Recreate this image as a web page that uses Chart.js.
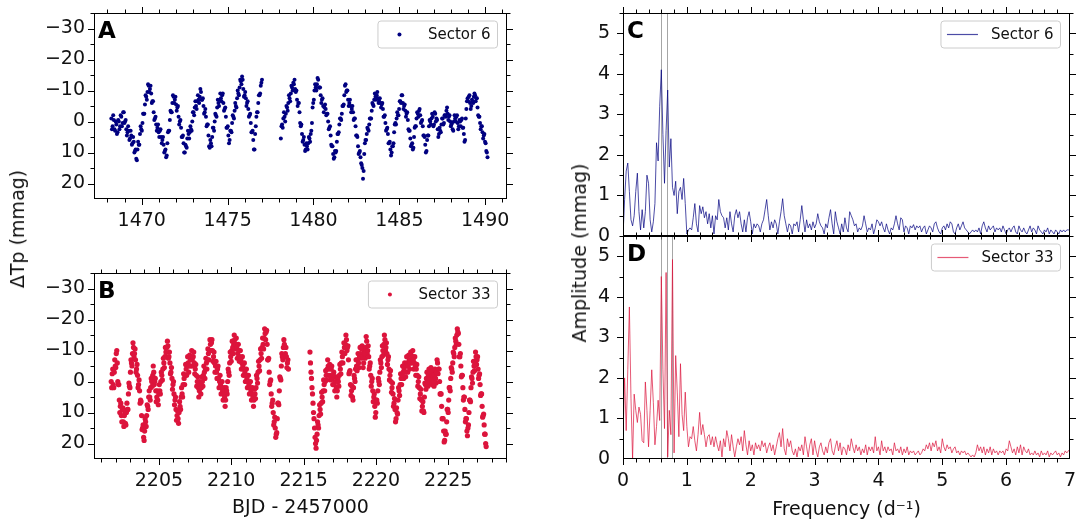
<!DOCTYPE html>
<html>
<head>
<meta charset="utf-8">
<script src="https://cdn.jsdelivr.net/npm/chart.js@4.4.1/dist/chart.umd.min.js"></script>
<style>
  body { margin: 0; background: #fff; width: 1078px; height: 523px; position: relative; overflow: hidden; }
  canvas { position: absolute; }
  .ylab { position: absolute; font-family: "DejaVu Sans"; font-size: 19px; color: #111; white-space: nowrap;
          transform: translate(-50%, -50%) rotate(-90deg); }
</style>
</head>
<body>
<canvas id="chartA" width="527" height="253" style="left:0;top:-8px"></canvas>
<canvas id="chartB" width="527" height="271" style="left:0;top:252px"></canvas>
<canvas id="chartC" width="528" height="273" style="left:560px;top:-12px"></canvas>
<canvas id="chartD" width="528" height="312" style="left:560px;top:211px"></canvas>
<div class="ylab" style="left:17px;top:229px">ΔTp (mmag)</div>
<div class="ylab" style="left:579px;top:253px">Amplitude (mmag)</div>
<script>
// light curves: main samples at start + i*step, in-between samples at start + (i+0.5)*step
var s6Start = [1468.23, 1478.10];
var s6Step = 0.0725;
var s6Orbit1 = [-1, 1.5, -0.5, 3, 1, 3.5, 0, 1.5, -1.5, 0.5,
  -3, 0, 2.5, 3.5, 3, 5.5, 4.5, 7, 6.5, 9.5,
  12, 9, 7.5, 4, 2.5, 0.5, -2.5, -5.5, -8, -9.5,
  -11.5, -10.5, -9, -6.5, -3, -1, 1, 2, 3.5, 3,
  5, 6, 7.5, 9.5, 11.5, 7, 3, -0.5, -3, -6,
  -8, -7, -5.5, -4.5, -1.5, 0, 2, 5, 7, 10,
  8, 5.5, 4, 3.5, 2.5, 0, -3, -4.5, -5, -6.5,
  -7, -8, -9.5, -7, -5, -3, -1.5, 1, 4.5, 8.5,
  7, 5, 2, 0, -2, -4.5, -6, -7, -7.5, -8.5,
  -6, -4, -1.5, 2, 4.5, 6, 3, 0.5, -1.5, -3.5,
  -5, -7.5, -9, -11, -13, -14.5, -10.5, -8.5, -7.5, -6,
  -4, -2, 0.5, 3.5, 6, 9, 1.5, -3, -6, -8.5,
  -11.5, -13.5];
var s6Orbit1Mid = [2.5, -2, 2.5, 0, 4, -0.5, 2.5, -2, 1.5, -3,
  0.5, -0.5, 4.5, 1.5, 6, 3, 7.5, 5, 10, 9,
  12.5, 6.5, 7.5, 1.5, 3, -2.5, -2.5, -8.5, -7, -12,
  -9.5, -11.5, -6, -6.5, -0.5, -1.5, 3, 1, 5, 2.5,
  7, 5, 10, 9, 11, 3.5, 3, -3.5, -3, -8.5,
  -6, -8, -3.5, -5, 1, -0.5, 5, 4.5, 10, 7.5,
  8.5, 3, 5.5, 1.5, 3, -3, -2, -6.5, -4, -8.5,
  -6, -10.5, -7, -7.5, -2.5, -4, 1.5, 1, 8, 6,
  8, 2, 3, -2.5, -1.5, -7, -5, -9, -6.5, -9,
  -3.5, -4.5, 2, 1.5, 7, 3, 3.5, -2, -1, -6,
  -4.5, -10, -8.5, -13.5, -12, -13.5, -8, -9.5, -5, -6.5,
  -1.5, -2.5, 3.5, 3, 9, 4, -1.5, -3, -8.5, -9,
  -12.5];
var s6Orbit2 = [5.5, 1, -1, -1.5, -2.5, -4.5, -6, -7.5, -9, -11,
  -12.5, -13.5, -9.5, -7, -6, -3, 1.5, 4, 6, 7.5,
  9, 8, 7, 5.5, 4, 0.5, -6, -10, -11, -12,
  -13.5, -11, -8.5, -7, -5, -4.5, -4, -2.5, 0, 2,
  4.5, 8, 10.5, 11.5, 10, 6.5, 4, 1, -1, -2.5,
  -5, -8.5, -12, -10, -7, -6, -5, -4, -3, -1,
  1.5, 4.5, 8, 10, 11.5, 14, 18.5, 10.5, 6, 4,
  2.5, 1, -1, -3.5, -5.5, -7, -8, -8.5, -7.5, -6.5,
  -6, -5.5, -4, -1.5, 0.5, 2.5, 4, 7, 9, 10,
  8, 3.5, 0.5, -1, -2, -4, -6.5, -8.5, -6, -5,
  -3.5, -2.5, -0.5, 3, 5.5, 7.5, 9, 5, 1.5, -1,
  -2.5, -3.5, -2, 0, 1.5, 4.5, 7.5, 9.5, 4.5, 1.5,
  0, -1, -1.5, 1, -2.5, -1, 2.5, 4, 3, 1,
  -1, 0.5, -2, -3.5, -2.5, -1.5, 0, 1, 2.5, 0,
  -1, -1.5, 0.5, 1.5, 0, -0.5, 2, 4, 6, -4,
  -7.5, -8, -6, -5, -6.5, -8, -8.5, -7.5, -4.5, -1.5,
  0.5, 1.5, 3.5, 4.5, 6.5, 9.5, 11.5];
var s6Orbit2Mid = [1.5, 2, -3, 0, -5, -3.5, -8.5, -6.5, -11.5, -10,
  -12, -10.5, -10, -5, -6, 0.5, 1, 6.5, 5, 9.5,
  7, 9, 5, 6.5, 3, -4.5, -7, -12, -10, -14,
  -11, -11, -6, -7.5, -3, -5.5, -2, -2.5, 2.5, 1.5,
  7.5, 8, 12, 9.5, 9.5, 4, 3.5, -1, -0.5, -5,
  -5.5, -11.5, -9.5, -10, -5, -7, -3, -5, -0.5, -1,
  4.5, 5, 10.5, 9.5, 13.5, 15, 16, 7, 6, 2,
  3, -1, -1, -6, -5, -9, -7, -9.5, -6, -7.5,
  -4.5, -6, -1.5, -2, 3, 2, 7, 6.5, 11, 8,
  7, 1, 1, -3, -2, -6.5, -6, -8.5, -4, -5.5,
  -1.5, -3, 2.5, 3, 8, 7, 8.5, 2, 1.5, -3,
  -1.5, -4, 0.5, -0.5, 4.5, 5, 10, 6, 4.5, -0.5,
  1, -2.5, 1.5, -3, 0, -0.5, 5, 2, 3.5, -1,
  1, -2, -1.5, -4.5, -0.5, -2, 1.5, 0.5, 3, -2,
  0, -2, 2.5, -0.5, 1.5, -1, 2, 6.5, -1, -6.5,
  -6.5, -8.5, -4, -7, -6, -9, -6.5, -7.5, -2, -1.5,
  2.5, 1.5, 5.5, 4, 7, 10];

var s33Start = [2201.70, 2215.44];
var s33Step = 0.07;
var s33Orbit1 = [0, -2.5, 1, -3, -5, -9, -6, 1, 6, 8,
  11, 9, 13, 11, 13.5, 10, 9, 4, 1.5, -3,
  -6, -9, -11, -9, -7, -4, -2, 1, 3, 6,
  11, 15, 18, 16, 13, 11, 8, 5, 5, 2,
  0, -2, -3, 0, 3, 5, 6, 4, 3, 0,
  -2, -4, -6, -8, -9.5, -11, -11.5, -8, -6, -3,
  -1, 1, 4, 6, 9, 11, 12, 10, 8, 5,
  4, 1, -1, -2, -4, -5, -6, -5, -7, -8,
  -7, -8, -6, -4, -2, 0, 2, 3, 1, 2,
  0, -2, -3, -4, -6, -7, -9, -10, -12, -12.5,
  -10, -8, -6, -5, -3, -4, -1, 0, 1, 2,
  3, 4, 5, 6, 3, 0, -3, -6, -8, -10,
  -11, -12, -13.5, -12, -11, -9, -10, -8, -7, -6,
  -5, -4, -3, -2, -1, 0, 1, 2, 3, 4,
  5, 6, 4, 2, -1, -3, -5, -7, -9, -11,
  -12, -14, -15.5, -16, -12, -7, -3, 0, 4, 7,
  10, 13, 15, 17, 12, 7, 3, -1, -5, -8,
  -11, -12, -9, -8, -6, -4];
var s33Orbit1Mid = [2, -4, 2, -7, -4.5, -10, 0, 1, 10, 7,
  13, 8.5, 14.5, 10, 14, 7, 9, 0.5, 2, -7,
  -5, -12.5, -8, -10.5, -3, -5.5, 2, -0.5, 7, 6.5,
  15.5, 14, 19, 12, 14.5, 7.5, 9, 3, 6, -1,
  1.5, -5, 1, -1, 6.5, 3, 7.5, 1, 4, -3,
  -0.5, -7.5, -4.5, -11, -8, -13, -7.5, -9.5, -2.5, -4.5,
  2.5, 0, 7.5, 5, 12.5, 9.5, 13.5, 6.5, 9, 2,
  5, -2.5, 1, -5.5, -2, -8, -3, -8.5, -5, -10,
  -5, -9.5, -2.5, -5.5, 1.5, -1.5, 5, 0, 4, -1.5,
  1.5, -5, -1, -7.5, -4, -10.5, -7, -13.5, -10, -13.5,
  -6.5, -9.5, -3, -6.5, -1, -5, 2, -2, 4, 0,
  6, 2, 8, 2, 4, -4, -2, -9.5, -6.5, -13,
  -9, -15, -10.5, -14, -7.5, -12, -6.5, -10, -4, -8,
  -2, -6, 0, -4, 2, -2, 4, 0, 6, 2,
  8, 2.5, 5.5, -2, 0.5, -6.5, -3.5, -10.5, -7.5, -14,
  -10.5, -17, -13.5, -16.5, -7, -7.5, 1, -0.5, 8, 6,
  14, 11.5, 18, 16.5, 7, 7.5, -1.5, -0.5, -9, -7,
  -13.5, -8, -11, -4.5, -7];
var s33Orbit2 = [-9.5, -3, 2, 7, 12, 18, 21.5, 17, 14, 11,
  9, 7, 5, 3, 1, 0, -2, -4, -5, -4,
  -2, -4, -1, -2, 1, 0, 2, 3, 0, -2,
  -4, -6, -8, -9, -11, -12, -13.5, -11, -7, -3,
  1, 3, 5, 2, -1, -4, -5, -7, -6, -8,
  -9, -10.5, -8, -6, -9, -11, -13, -10, -8, -5,
  -2, 0, 3, 5, 8, 10, 6, 3, 0, -3,
  -6, -8, -10, -12, -13.5, -11, -9, -7, -4, -2,
  0, 2, 4, 7, 9, 12, 10, 6, 3, 1,
  -1, -2, -3, -4, -3, -5, -6, -5, -7, -6,
  -8.5, -8, -7, -6, -5, -4, -2, 0, 2, 4,
  6, 8, 9.5, 5, 1, -1, 0, -2, -1, -3,
  -1, -2, 0, -2, -1, -3, -6, -4, 0, 4,
  8, 12, 16, 19, 17, 13, 9, 6, 2, -1,
  -4, -6, -9, -11, -13, -15, -16, -12, -8, -5,
  -2, 2, 5, 9, 12, 16, 15, 10, 6, 2,
  -1, -3, -5, -6, -8, -7, -4, -2, 1, 4,
  8, 11, 14, 17, 21];
var s33Orbit2Mid = [-6, -1, 4, 10, 15, 20, 19, 13, 15, 7.5,
  10.5, 3.5, 6.5, -0.5, 3, -3.5, -0.5, -7, -2, -5.5,
  -0.5, -5, 1, -3, 3, -1.5, 5, -1, 1.5, -5.5,
  -2.5, -9.5, -6, -12.5, -9, -15, -10, -11.5, -2.5, -3.5,
  4.5, 1.5, 6, -2, 0, -7, -3.5, -9, -4.5, -11,
  -7.5, -11.5, -4.5, -10, -7.5, -14.5, -9, -11.5, -4, -6,
  1.5, -1, 6.5, 4, 11.5, 6, 7, -1, 1, -7,
  -4.5, -11.5, -8.5, -15, -10, -12.5, -5.5, -8, -0.5, -3.5,
  3.5, 0.5, 8, 5.5, 13, 8.5, 10.5, 2, 4.5, -2.5,
  1, -5, -1, -6, -1.5, -8, -3, -8.5, -4, -9.5,
  -6, -10, -4, -8, -2, -5.5, 1.5, -1.5, 5.5, 2.5,
  9.5, 6.5, 10, 0.5, 2.5, -3, 1.5, -4, 0.5, -4.5,
  1, -3.5, 1.5, -4, 0.5, -7, -2.5, -4, 4, 4,
  12, 12, 19.5, 16, 17, 9, 10, 2, 3, -4.5,
  -3, -9.5, -8, -14, -12, -17, -15.5, -8, -9, -1.5,
  -2, 6, 5, 13, 12, 17.5, 14, 6, 6.5, -1.5,
  0.5, -6.5, -3.5, -9.5, -5.5, -8, -1, -2.5, 4.5, 4,
  11.5, 10.5, 17, 20];

// amplitude spectra, one value every 0.025 d^-1 from 0 to 7
var fStep = 0.025;
var ampS6 = [0.0, 0.9, 1.6, 1.8, 1.1, 0.4, 0.25, 0.5,
  1.1, 1.55, 0.6, 0.15, 0.65, 0.2, 0.6, 1.5,
  1.3, 0.4, 0.1, 0.35, 0.8, 2.3, 1.85, 3.2,
  4.1, 2.5, 1.3, 2.6, 3.6, 1.7, 2.4, 1.2,
  1.0, 1.35, 0.55, 1.1, 1.2, 0.9, 1.42, 0.8,
  0.05, 0.15, 0.2, 0.15, 0.45, 0.8, 0.3, 0.1,
  0.75, 0.55, 0.72, 0.45, 0.6, 0.3, 0.55, 0.2,
  0.5, 0.05, 0.5, 0.4, 0.9, 0.6, 0.5, 0.45,
  0.2, 0.45, 0.15, 0.6, 0.3, 0.1, 0.5, 0.65,
  0.45, 0.6, 0.3, 0.1, 0.4, 0.1, 0.45, 0.6,
  0.35, 0.05, 0.3, 0.2, 0.3, 0.25, 0.1, 0.3,
  0.4, 0.65, 0.9, 0.5, 0.15, 0.35, 0.2, 0.4,
  0.3, 0.05, 0.35, 0.6, 0.92, 0.5, 0.3, 0.1,
  0.3, 0.25, 0.05, 0.3, 0.25, 0.35, 0.1, 0.4,
  0.75, 0.4, 0.1, 0.4, 0.2, 0.3, 0.15, 0.35,
  0.2, 0.3, 0.55, 0.35, 0.25, 0.2, 0.05, 0.3,
  0.2, 0.45, 0.65, 0.3, 0.05, 0.6, 0.35, 0.2,
  0.05, 0.3, 0.1, 0.45, 0.2, 0.1, 0.6, 0.5,
  0.4, 0.25, 0.3, 0.1, 0.2, 0.15, 0.25, 0.5,
  0.3, 0.1, 0.2, 0.15, 0.3, 0.05, 0.2, 0.4,
  0.35, 0.25, 0.35, 0.2, 0.1, 0.3, 0.15, 0.05,
  0.2, 0.15, 0.3, 0.5, 0.3, 0.15, 0.45, 0.4,
  0.1, 0.25, 0.2, 0.05, 0.25, 0.2, 0.28, 0.15,
  0.25, 0.2, 0.25, 0.1, 0.2, 0.25, 0.05, 0.15,
  0.25, 0.2, 0.1, 0.3, 0.35, 0.2, 0.1, 0.05,
  0.2, 0.25, 0.15, 0.3, 0.2, 0.35, 0.3, 0.1,
  0.05, 0.2, 0.3, 0.15, 0.25, 0.35, 0.2, 0.15,
  0.1, 0.05, 0.1, 0.15, 0.1, 0.15, 0.1, 0.2,
  0.05, 0.25, 0.35, 0.2, 0.1, 0.25, 0.15, 0.2,
  0.25, 0.1, 0.2, 0.15, 0.2, 0.1, 0.25, 0.15,
  0.05, 0.15, 0.2, 0.1, 0.2, 0.25, 0.1, 0.05,
  0.25, 0.15, 0.1, 0.2, 0.1, 0.05, 0.15, 0.25,
  0.1, 0.2, 0.15, 0.05, 0.25, 0.15, 0.1, 0.05,
  0.15, 0.1, 0.2, 0.05, 0.15, 0.1, 0.05, 0.15,
  0.1, 0.05, 0.15, 0.1, 0.15, 0.1, 0.15, 0.15,
  0.15];
var ampS33 = [0.5, 2.0, 0.7, 2.2, 3.75, 1.5, 0.0, 1.6,
  1.2, 0.9, 1.28, 1.1, 0.45, 0.4, 1.9, 1.2,
  0.3, 1.2, 2.2, 1.4, 0.35, 0.8, 1.45, 0.95,
  4.5, 2.2, 0.75, 4.6, 0.05, 1.2, 0.6, 4.92,
  0.15, 2.55, 1.65, 0.55, 2.35, 1.1, 0.7, 1.65,
  0.8, 0.3, 0.55, 0.5, 0.8, 0.45, 0.2, 0.6,
  1.15, 0.6, 0.85, 0.6, 0.3, 0.55, 0.6, 0.35,
  0.55, 0.3, 0.55, 0.35, 0.2, 0.45, 0.05, 0.5,
  0.3, 0.7, 0.5, 0.2, 0.6, 0.3, 0.05, 0.3,
  0.5, 0.35, 0.55, 0.2, 0.7, 0.35, 0.1, 0.45,
  0.2, 0.35, 0.1, 0.4, 0.25, 0.35, 0.2, 0.45,
  0.3, 0.4, 0.15, 0.3, 0.4, 0.2, 0.35, 0.1,
  0.3, 0.5, 0.65, 0.3, 0.75, 0.25, 0.1, 0.5,
  0.3, 0.45, 0.2, 0.1, 0.25, 0.05, 0.3, 0.2,
  0.35, 0.1, 0.55, 0.3, 0.05, 0.35, 0.5, 0.1,
  0.45, 0.2, 0.05, 0.3, 0.4, 0.2, 0.1, 0.3,
  0.15, 0.4, 0.5, 0.2, 0.1, 0.3, 0.45, 0.2,
  0.4, 0.1, 0.3, 0.25, 0.1, 0.35, 0.2, 0.5,
  0.3, 0.15, 0.35, 0.2, 0.3, 0.1, 0.25, 0.15,
  0.35, 0.1, 0.3, 0.2, 0.3, 0.15, 0.55, 0.2,
  0.3, 0.1, 0.45, 0.2, 0.3, 0.15, 0.3, 0.2,
  0.25, 0.1, 0.4, 0.2, 0.25, 0.15, 0.3, 0.1,
  0.25, 0.15, 0.3, 0.1, 0.2, 0.15, 0.2, 0.1,
  0.15, 0.2, 0.1, 0.15, 0.25, 0.2, 0.35, 0.25,
  0.4, 0.2, 0.4, 0.3, 0.45, 0.2, 0.3, 0.15,
  0.5, 0.3, 0.2, 0.35, 0.25, 0.3, 0.15, 0.25,
  0.3, 0.15, 0.2, 0.1, 0.2, 0.15, 0.2, 0.1,
  0.15, 0.1, 0.05, 0.1, 0.05, 0.15, 0.35, 0.2,
  0.3, 0.15, 0.3, 0.1, 0.25, 0.15, 0.3, 0.1,
  0.25, 0.15, 0.2, 0.1, 0.2, 0.15, 0.2, 0.1,
  0.25, 0.2, 0.45, 0.3, 0.15, 0.25, 0.1, 0.3,
  0.15, 0.35, 0.1, 0.3, 0.2, 0.15, 0.25, 0.1,
  0.15, 0.1, 0.2, 0.1, 0.15, 0.05, 0.2, 0.1,
  0.15, 0.1, 0.2, 0.05, 0.15, 0.1, 0.15, 0.2,
  0.1, 0.15, 0.05, 0.15, 0.1, 0.2, 0.15, 0.2,
  0.25];

// marked frequencies (grey lines)
var freqS6 = [0.60, 0.69];
var freqS33 = [0.60, 0.69, 0.77];

// ticks
var lcTicks = [-30, -20, -10, 0, 10, 20];
var s6Ticks = [1470, 1475, 1480, 1485, 1490];
var s33Ticks = [2205, 2210, 2215, 2220, 2225];
var fTicks = [0, 1, 2, 3, 4, 5, 6, 7];
var ampTicks = [0, 1, 2, 3, 4, 5];

var FONT = 'DejaVu Sans';

function steps(a, b, s) {
  var out = [];
  for (var v = a; v <= b + 1e-9; v += s) out.push(+v.toFixed(3));
  return out;
}

function lcPoints(starts, step, orbits, offset) {
  var pts = [];
  orbits.forEach(function (vals, k) {
    vals.forEach(function (v, i) { pts.push({ x: starts[k] + (i + offset) * step, y: v }); });
  });
  return pts;
}

function specPoints(amp) {
  return amp.map(function (a, i) { return { x: +(i * fStep).toFixed(3), y: a }; });
}

function fmt(v) {
  return v < 0 ? '\u2212' + (-v) : String(v);
}

// frame, ticks on all sides, panel letter, legend and marked frequencies
var panelPlugin = {
  id: 'panel',
  beforeDatasetsDraw: function (chart, args, o) {
    var ctx = chart.ctx, a = chart.chartArea, x = chart.scales.x;
    ctx.save();
    ctx.strokeStyle = 'rgba(128,128,128,0.7)';
    ctx.lineWidth = 1;
    (o.lines || []).forEach(function (f) {
      var p = Math.round(x.getPixelForValue(f)) + 0.5;
      ctx.beginPath(); ctx.moveTo(p, a.top); ctx.lineTo(p, a.bottom); ctx.stroke();
    });
    ctx.restore();
  },
  afterDraw: function (chart, args, o) {
    var ctx = chart.ctx, a = chart.chartArea, x = chart.scales.x, y = chart.scales.y;
    ctx.save();
    ctx.strokeStyle = '#000';
    ctx.lineWidth = 1;
    ctx.strokeRect(a.left + 0.5, a.top + 0.5, a.right - a.left - 1, a.bottom - a.top - 1);
    function seg(x1, y1, x2, y2) { ctx.beginPath(); ctx.moveTo(x1, y1); ctx.lineTo(x2, y2); ctx.stroke(); }
    function xt(v, len) {
      var p = Math.round(x.getPixelForValue(v)) + 0.5;
      if (p < a.left || p > a.right) return;
      seg(p, a.bottom, p, a.bottom + len);
      seg(p, a.top, p, a.top - len);
    }
    function yt(v, len) {
      var p = Math.round(y.getPixelForValue(v)) + 0.5;
      if (p < a.top || p > a.bottom) return;
      seg(a.left, p, a.left - len, p);
      seg(a.right, p, a.right + len, p);
    }
    o.xMinor.forEach(function (v) { xt(v, 3.5); });
    o.yMinor.forEach(function (v) { yt(v, 3.5); });
    x.ticks.forEach(function (t) { xt(t.value, 6); });
    y.ticks.forEach(function (t) { yt(t.value, 6); });

    ctx.fillStyle = '#000';
    ctx.font = 'bold 23px "' + FONT + '"';
    ctx.textBaseline = 'alphabetic';
    ctx.textAlign = 'left';
    ctx.fillText(o.letter, a.left + 4, a.top + 24.5);

    var ds = chart.data.datasets[0];
    ctx.font = '15px "' + FONT + '"';
    var tw = ctx.measureText(ds.label).width;
    var w = 50 + tw + 7, h = 27;
    var bx = a.right - 9.5 - w, by = a.top + 8;
    ctx.beginPath();
    ctx.roundRect(bx, by, w, h, 3);
    ctx.fillStyle = 'rgba(255,255,255,0.8)';
    ctx.fill();
    ctx.strokeStyle = '#cccccc';
    ctx.stroke();
    var cy = by + h / 2;
    if (o.marker === 'dot') {
      ctx.fillStyle = ds.backgroundColor;
      ctx.beginPath(); ctx.arc(bx + 21.5, cy, 2, 0, Math.PI * 2); ctx.fill();
    } else {
      ctx.strokeStyle = ds.borderColor;
      ctx.lineWidth = 1.2;
      seg(bx + 6, cy, bx + 37, cy);
    }
    ctx.fillStyle = '#111';
    ctx.textBaseline = 'middle';
    ctx.fillText(ds.label, bx + 50, cy + 1);
    ctx.restore();
  }
};

function makePanel(id, c) {
  return new Chart(document.getElementById(id), {
    type: c.type,
    data: { datasets: c.datasets },
    options: {
      responsive: false,
      animation: false,
      devicePixelRatio: 1,
      layout: { padding: c.pad },
      plugins: {
        legend: { display: false },
        tooltip: { enabled: false },
        panel: c.panel
      },
      scales: {
        x: {
          type: 'linear', min: c.xMin, max: c.xMax,
          afterBuildTicks: function (s) { s.ticks = c.xTicks.map(function (v) { return { value: v }; }); },
          afterFit: function (s) { s.height = c.xH; },
          grid: { display: false, drawTicks: false }, border: { display: false },
          ticks: { display: c.xLabels, autoSkip: false, maxRotation: 0, padding: 11, color: '#111',
                   font: { family: FONT, size: 19 }, callback: fmt },
          title: { display: !!c.xTitle, text: c.xTitle || '', color: '#111',
                   font: { family: FONT, size: 19 }, padding: { top: 0, bottom: c.titlePad || 0 } }
        },
        y: {
          type: 'linear', min: c.yMin, max: c.yMax, reverse: !!c.yReverse,
          afterBuildTicks: function (s) { s.ticks = c.yTicks.map(function (v) { return { value: v }; }); },
          afterFit: function (s) { s.width = c.yW; },
          grid: { display: false, drawTicks: false }, border: { display: false },
          ticks: { autoSkip: false, padding: c.yPad, color: '#111',
                   font: { family: FONT, size: 19 }, callback: fmt }
        }
      }
    },
    plugins: [panelPlugin]
  });
}

function lcSet(label, color, radius, pts) {
  return { label: label, data: pts, backgroundColor: color, borderWidth: 0, pointRadius: radius };
}

makePanel('chartA', {
  type: 'scatter',
  datasets: [
    lcSet('Sector 6', '#000080', 2, lcPoints(s6Start, s6Step, [s6Orbit1, s6Orbit2], 0)),
    lcSet('Sector 6 (mid)', '#000080', 2, lcPoints(s6Start, s6Step, [s6Orbit1Mid, s6Orbit2Mid], 0.5))
  ],
  pad: { top: 21, right: 20, left: 0, bottom: 0 },
  xMin: 1467.22, xMax: 1491.27, xTicks: s6Ticks, xH: 46, xLabels: true,
  yMin: -35, yMax: 25, yReverse: true, yTicks: lcTicks, yW: 94, yPad: 9,
  panel: { letter: 'A', marker: 'dot', xMinor: steps(1468, 1491, 1), yMinor: steps(-35, 25, 5) }
});

makePanel('chartB', {
  type: 'scatter',
  datasets: [
    lcSet('Sector 33', '#dc143c', 2.6, lcPoints(s33Start, s33Step, [s33Orbit1, s33Orbit2], 0)),
    lcSet('Sector 33 (mid)', '#dc143c', 2.6, lcPoints(s33Start, s33Step, [s33Orbit1Mid, s33Orbit2Mid], 0.5))
  ],
  pad: { top: 21, right: 20, left: 0, bottom: 0 },
  xMin: 2200.51, xMax: 2229.06, xTicks: s33Ticks, xH: 64, xLabels: true,
  xTitle: 'BJD - 2457000', titlePad: 4,
  yMin: -35, yMax: 25, yReverse: true, yTicks: lcTicks, yW: 94, yPad: 9,
  panel: { letter: 'B', marker: 'dot', xMinor: steps(2201, 2229, 1), yMinor: steps(-35, 25, 5) }
});

makePanel('chartC', {
  type: 'line',
  datasets: [{ label: 'Sector 6', data: specPoints(ampS6), borderColor: 'rgba(0,0,128,0.7)',
               backgroundColor: 'rgba(0,0,128,0.7)', borderWidth: 1, pointRadius: 0, tension: 0, fill: false }],
  pad: { top: 25, right: 18, left: 0, bottom: 0 },
  xMin: 0, xMax: 7, xTicks: fTicks, xH: 25, xLabels: false,
  yMin: 0, yMax: 5.5, yTicks: ampTicks, yW: 63, yPad: 13,
  panel: { letter: 'C', marker: 'line', lines: freqS6, xMinor: steps(0, 7, 0.2), yMinor: steps(0, 5.5, 0.5) }
});

makePanel('chartD', {
  type: 'line',
  datasets: [{ label: 'Sector 33', data: specPoints(ampS33), borderColor: 'rgba(220,20,60,0.7)',
               backgroundColor: 'rgba(220,20,60,0.7)', borderWidth: 1, pointRadius: 0, tension: 0, fill: false }],
  pad: { top: 25, right: 18, left: 0, bottom: 0 },
  xMin: 0, xMax: 7, xTicks: fTicks, xH: 64, xLabels: true,
  xTitle: 'Frequency (d\u207B\u00B9)', titlePad: 2,
  yMin: 0, yMax: 5.5, yTicks: ampTicks, yW: 63, yPad: 13,
  panel: { letter: 'D', marker: 'line', lines: freqS33, xMinor: steps(0, 7, 0.2), yMinor: steps(0, 5.5, 0.5) }
});
</script>
</body>
</html>
